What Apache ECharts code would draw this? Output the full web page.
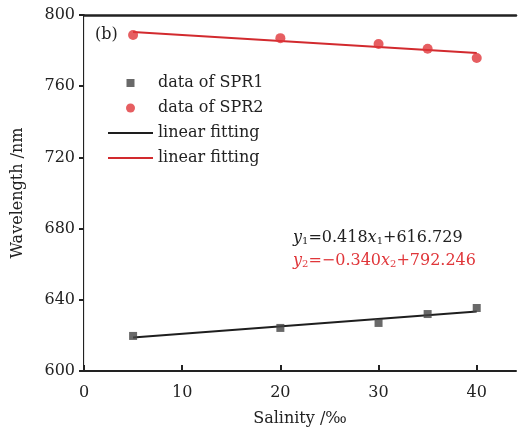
<!DOCTYPE html>
<html>
<head>
<meta charset="utf-8">
<script src="https://cdn.jsdelivr.net/npm/echarts@6/dist/echarts.min.js"></script>
<style>
    html, body { margin: 0; padding: 0; background: #fff; }
    #chart { width: 520px; height: 429px; }
</style>
</head>
<body>
<div id="chart"></div>
<script>
    // salinity values (per mille)
    let salinity = [5, 20, 30, 35, 40];
    // measured resonance wavelengths, nm
    let spr1 = [619.7, 624.2, 627.0, 632.0, 635.4];
    let spr2 = [788.8, 787.0, 783.7, 781.0, 775.8];
    // fitted line end points
    let fitX = [5, 40];
    let fit1 = [618.8, 633.4];
    let fit2 = [790.5, 778.6];
    let yTicks = [600, 640, 680, 720, 760, 800];

    let FONT = 'DejaVu Serif';
    let INK = '#222';
    let RED = '#e0363a';

    let _pairs = function(xs, ys){
        return xs.map((x, i) => [x, ys[i]]);
    };

    // small square centred in a 45x9 box (the empty moves keep the box wide)
    let SQUARE_ICON = 'path://M0,0L0,0M45,9L45,9M18.5,0.5h8v8h-8z';

    let chart = echarts.init(document.getElementById('chart'));

    let opts = {
        animation: false,
        textStyle: { fontFamily: FONT },
        grid: { left: 84, right: 4, top: 15, bottom: 58, outerBoundsMode: 'none' },
        legend: {
            orient: 'vertical',
            left: 102,
            top: 70,
            itemWidth: 45,
            itemHeight: 9,
            itemGap: 9,
            textStyle: { fontFamily: FONT, fontSize: 16, color: INK },
            data: [
                { name: 'data of SPR1', icon: SQUARE_ICON },
                { name: 'data of SPR2' },
                { name: 'linear fitting', itemStyle: { opacity: 0 } },
                { name: 'linear fitting ', itemStyle: { opacity: 0 } }
            ]
        },
        xAxis: [
            {
                type: 'value',
                min: 0,
                max: 44,
                interval: 10,
                name: 'Salinity /‰',
                nameLocation: 'middle',
                nameGap: 40,
                nameTextStyle: { fontFamily: FONT, fontSize: 16, color: INK },
                splitLine: { show: false },
                axisLine: { lineStyle: { color: INK, width: 2 } },
                axisTick: { inside: true, length: 6, lineStyle: { color: INK, width: 2 } },
                axisLabel: { showMaxLabel: false, margin: 14, fontFamily: FONT, fontSize: 16, color: INK }
            },
            {
                // top frame line
                type: 'value',
                position: 'top',
                min: 0,
                max: 44,
                axisLine: { show: true, lineStyle: { color: INK, width: 2.5 } },
                axisTick: { show: false },
                axisLabel: { show: false },
                splitLine: { show: false }
            }
        ],
        yAxis: [
            {
                type: 'value',
                min: yTicks[0],
                max: yTicks[yTicks.length - 1],
                interval: 40,
                name: 'Wavelength /nm',
                nameLocation: 'middle',
                nameGap: 58,
                nameTextStyle: { fontFamily: FONT, fontSize: 16, color: INK },
                splitLine: { show: false },
                axisLine: { show: true, lineStyle: { color: INK, width: 2 } },
                axisTick: { show: true, length: 5, lineStyle: { color: INK, width: 2 } },
                axisLabel: { margin: 9, fontFamily: FONT, fontSize: 16, color: INK }
            },
            {
                // faint right frame line
                type: 'value',
                position: 'right',
                min: yTicks[0],
                max: yTicks[yTicks.length - 1],
                axisLine: { show: true, lineStyle: { color: '#e4e4e4', width: 1 } },
                axisTick: { show: false },
                axisLabel: { show: false },
                splitLine: { show: false }
            }
        ],
        series: [
            {
                name: 'data of SPR1',
                type: 'scatter',
                symbol: 'rect',
                symbolSize: 8,
                itemStyle: { color: '#444' },
                data: _pairs(salinity, spr1),
                z: 3
            },
            {
                name: 'data of SPR2',
                type: 'scatter',
                symbol: 'circle',
                symbolSize: 10,
                itemStyle: { color: RED },
                data: _pairs(salinity, spr2),
                z: 3
            },
            {
                name: 'linear fitting',
                type: 'line',
                symbol: 'none',
                lineStyle: { color: '#1e1e1e', width: 2 },
                itemStyle: { color: '#1e1e1e' },
                data: _pairs(fitX, fit1)
            },
            {
                name: 'linear fitting ',
                type: 'line',
                symbol: 'none',
                lineStyle: { color: '#d22a2e', width: 2 },
                itemStyle: { color: '#d22a2e' },
                data: _pairs(fitX, fit2)
            }
        ],
        graphic: [
            {
                type: 'text',
                left: 95,
                top: 27,
                style: { text: '(b)', font: '16px "DejaVu Serif"', fill: INK }
            },
            {
                type: 'text',
                left: 293,
                top: 230,
                style: {
                    text: '{i|y}{s|1}=0.418{i|x}{s|1}+616.729',
                    fill: INK,
                    font: '16px "DejaVu Serif"',
                    rich: {
                        i: { fontStyle: 'italic', fontFamily: FONT, fontSize: 16, fill: INK },
                        s: { fontFamily: FONT, fontSize: 10, fill: INK, lineHeight: 8, verticalAlign: 'bottom' }
                    }
                }
            },
            {
                type: 'text',
                left: 293,
                top: 253,
                style: {
                    text: '{i|y}{s|2}=\u22120.340{i|x}{s|2}+792.246',
                    fill: RED,
                    font: '16px "DejaVu Serif"',
                    rich: {
                        i: { fontStyle: 'italic', fontFamily: FONT, fontSize: 16, fill: RED },
                        s: { fontFamily: FONT, fontSize: 10, fill: RED, lineHeight: 8, verticalAlign: 'bottom' }
                    }
                }
            }
        ]
    };

    chart.setOption(opts);
</script>
</body>
</html>
